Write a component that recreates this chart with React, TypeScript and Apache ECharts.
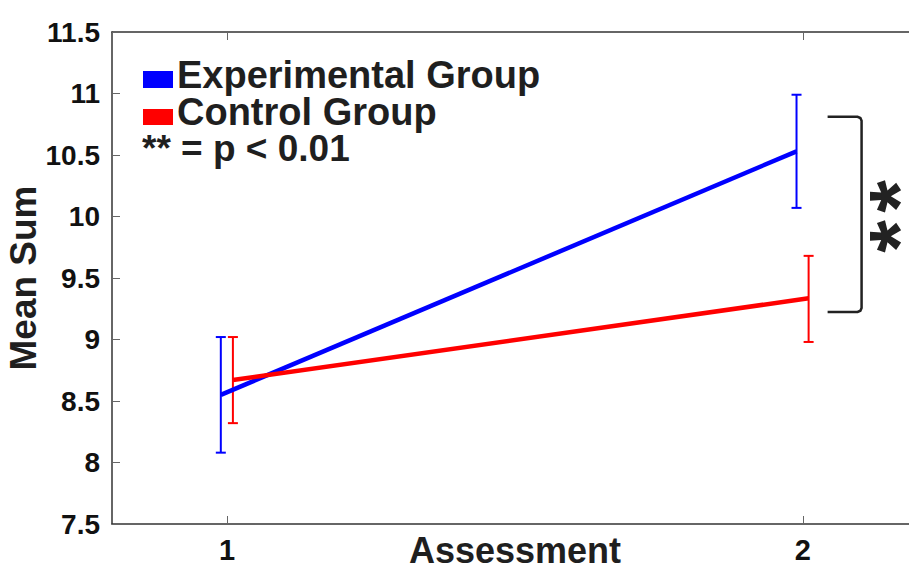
import React, { useEffect, useRef } from "react";
import * as echarts from "echarts";

// ---- data ----
const assessments = [1, 2];
const expMean = [8.55, 10.53];
const expLow = [8.08, 10.07];
const expHigh = [9.02, 10.99];
const ctrlMean = [8.67, 9.335];
const ctrlLow = [8.32, 8.98];
const ctrlHigh = [9.02, 9.68];
const expOffset = -0.011;
const ctrlOffset = 0.01;
const xTickValues = [1, 2];
// significance bracket: [xLeft, xRight, yTop, yBottom]
const bracketSpan = [2.043, 2.102, 10.81, 9.224];
const legendNames = ["Experimental Group", "Control Group"];
const legendNote = "** = p < 0.01";

const FONT = "'Liberation Sans', Arial, Helvetica, sans-serif";
const TEXT = "#1f1f1f";
const AXIS = "#333333";
const BLUE = "#0000ff";
const RED = "#ff0000";

function errorRender(color: string) {
  return (params: any, api: any) => {
    const x = api.value(0);
    const lo = api.coord([x, api.value(1)]);
    const hi = api.coord([x, api.value(2)]);
    const w = 5;
    const style = { stroke: color, lineWidth: 2 };
    return {
      type: "group",
      children: [
        { type: "line", shape: { x1: lo[0], y1: lo[1], x2: hi[0], y2: hi[1] }, style },
        { type: "line", shape: { x1: lo[0] - w, y1: lo[1], x2: lo[0] + w, y2: lo[1] }, style },
        { type: "line", shape: { x1: hi[0] - w, y1: hi[1], x2: hi[0] + w, y2: hi[1] }, style },
      ],
    };
  };
}

export default function App() {
  const ref = useRef<HTMLDivElement>(null);
  useEffect(() => {
    if (!ref.current) return;
    const chart = echarts.init(ref.current, null, { renderer: "svg" });

    const expLine = assessments.map((a, i) => [a + expOffset, expMean[i]]);
    const ctrlLine = assessments.map((a, i) => [a + ctrlOffset, ctrlMean[i]]);
    const expErr = assessments.map((a, i) => [a + expOffset, expLow[i], expHigh[i]]);
    const ctrlErr = assessments.map((a, i) => [a + ctrlOffset, ctrlLow[i], ctrlHigh[i]]);

    const option: any = {
      animation: false,
      backgroundColor: "#ffffff",
      grid: { left: 112, top: 32, right: -9, bottom: 42, containLabel: false, outerBoundsMode: "none" },
      xAxis: [
        {
          type: "value",
          position: "bottom",
          min: 0.8,
          max: 2.2,
          splitLine: { show: false },
          axisLine: { show: true, lineStyle: { color: AXIS, width: 1.5 } },
          axisTick: { show: true, inside: true, length: 8, customValues: xTickValues, lineStyle: { color: "#666", width: 1 } },
          axisLabel: {
            show: true,
            customValues: xTickValues,
            margin: 11,
            fontSize: 29,
            fontWeight: "bold",
            fontFamily: FONT,
            color: "#111",
          },
          name: "Assessment",
          nameLocation: "middle",
          nameGap: 26,
          nameMoveOverlap: false,
          nameTextStyle: {
            fontSize: 36,
            lineHeight: 26,
            fontWeight: "bold",
            fontFamily: FONT,
            color: TEXT,
            verticalAlign: "middle",
          },
        },
        {
          type: "value",
          position: "top",
          min: 0.8,
          max: 2.2,
          splitLine: { show: false },
          axisLine: { show: true, lineStyle: { color: AXIS, width: 1.5 } },
          axisTick: { show: true, inside: true, length: 8, customValues: xTickValues, lineStyle: { color: "#666", width: 1 } },
          axisLabel: { show: false },
        },
      ],
      yAxis: {
        type: "value",
        min: 7.5,
        max: 11.5,
        interval: 0.5,
        splitLine: { show: false },
        axisLine: { show: true, lineStyle: { color: AXIS, width: 1.5 } },
        axisTick: { show: true, inside: true, length: 8, lineStyle: { color: "#666", width: 1 } },
        axisLabel: {
          margin: 12,
          fontSize: 28,
          fontWeight: "bold",
          fontFamily: FONT,
          color: "#111",
        },
        name: "Mean Sum",
        nameLocation: "middle",
        nameRotate: 90,
        nameGap: 70,
        nameMoveOverlap: false,
        nameTextStyle: { fontSize: 37, fontWeight: "bold", fontFamily: FONT, color: TEXT },
      },
      series: [
        {
          name: legendNames[0],
          type: "line",
          data: expLine,
          symbol: "none",
          lineStyle: { color: BLUE, width: 4.5 },
          z: 3,
        },
        {
          name: legendNames[1],
          type: "line",
          data: ctrlLine,
          symbol: "none",
          lineStyle: { color: RED, width: 4.5 },
          z: 4,
        },
        {
          name: "Experimental SE",
          type: "custom",
          data: expErr,
          encode: { x: 0, y: [1, 2] },
          renderItem: errorRender(BLUE),
          z: 2,
        },
        {
          name: "Control SE",
          type: "custom",
          data: ctrlErr,
          encode: { x: 0, y: [1, 2] },
          renderItem: errorRender(RED),
          z: 2,
        },
        {
          name: "Significance",
          type: "custom",
          data: [bracketSpan],
          encode: { x: [0, 1], y: [2, 3] },
          clip: false,
          renderItem: (params: any, api: any) => {
            const tl = api.coord([api.value(0), api.value(2)]);
            const br = api.coord([api.value(1), api.value(3)]);
            const midY = (tl[1] + br[1]) / 2;
            const starX = br[0] + 37;
            const r = 4;
            const starStyle = {
              text: "*",
              fontSize: 84,
              fontWeight: "bold",
              fontFamily: FONT,
              fill: "#222",
              align: "center",
              verticalAlign: "middle",
              lineHeight: 18,
            };
            const stroke = { stroke: "#222", lineWidth: 2.5, fill: "none" };
            return {
              type: "group",
              children: [
                {
                  type: "polyline",
                  shape: {
                    points: [
                      [tl[0], tl[1]],
                      [br[0] - r, tl[1]],
                      [br[0] - r * 0.3, tl[1] + r * 0.3],
                      [br[0], tl[1] + r],
                      [br[0], br[1] - r],
                      [br[0] - r * 0.3, br[1] - r * 0.3],
                      [br[0] - r, br[1]],
                      [tl[0], br[1]],
                    ],
                  },
                  style: stroke,
                },
                { type: "text", x: starX, y: midY - 18, rotation: Math.PI / 2, style: starStyle },
                { type: "text", x: starX, y: midY + 22, rotation: Math.PI / 2, style: starStyle },
              ],
            };
          },
        },
      ],
      graphic: [
        { type: "rect", shape: { x: 143, y: 71, width: 30, height: 17 }, style: { fill: BLUE } },
        {
          type: "text",
          x: 177,
          y: 75,
          style: { text: legendNames[0], fontSize: 38, lineHeight: 30, fontWeight: "bold", fontFamily: FONT, fill: TEXT, verticalAlign: "middle" },
        },
        { type: "rect", shape: { x: 143, y: 109, width: 30, height: 16 }, style: { fill: RED } },
        {
          type: "text",
          x: 177,
          y: 112,
          style: { text: legendNames[1], fontSize: 38, lineHeight: 30, fontWeight: "bold", fontFamily: FONT, fill: TEXT, verticalAlign: "middle" },
        },
        {
          type: "text",
          x: 142,
          y: 148,
          style: { text: legendNote, fontSize: 37, lineHeight: 30, fontWeight: "bold", fontFamily: FONT, fill: TEXT, verticalAlign: "middle" },
        },
      ],
    };
    chart.setOption(option);
    return () => chart.dispose();
  }, []);

  return (
    <div
      ref={ref}
      style={{ position: "fixed", left: 0, top: 0, width: 909, height: 566, background: "#fff" }}
    />
  );
}
